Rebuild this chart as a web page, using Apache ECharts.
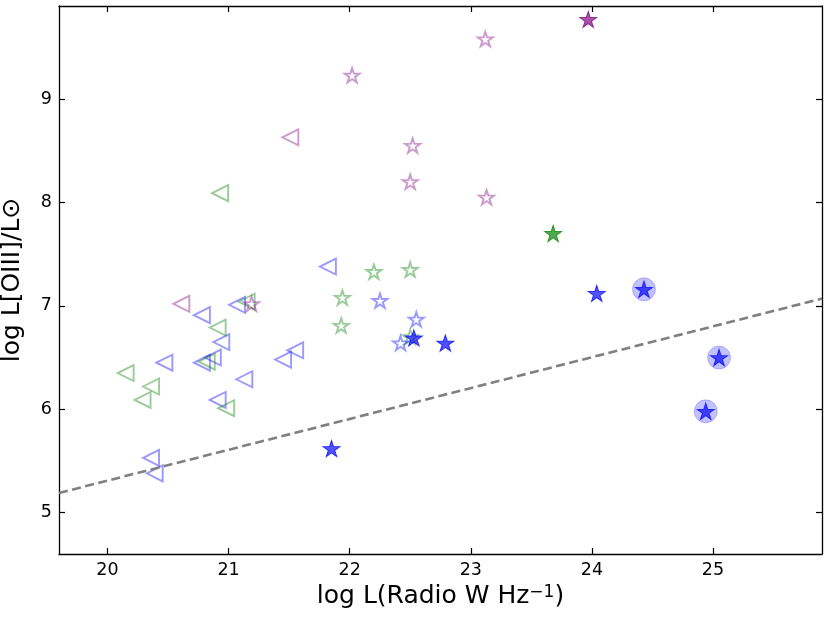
<!DOCTYPE html>
<html>
<head>
<meta charset="utf-8">
<script src="https://cdn.jsdelivr.net/npm/echarts@6/dist/echarts.min.js"></script>
<style>
  html, body { margin: 0; padding: 0; background: #fff; }
  #chart { width: 830px; height: 623px; }
</style>
</head>
<body>
<div id="chart"></div>
<script>
const xRange = [19.6, 25.9];
const yRange = [4.6, 9.9];
const xTicks = [20, 21, 22, 23, 24, 25];
const yTicks = [5, 6, 7, 8, 9];

// open triangles
const blueTriangles = [
  [20.47, 6.45], [20.78, 6.45], [20.87, 6.50], [20.94, 6.65], [20.78, 6.91],
  [21.07, 7.01], [21.13, 6.29], [20.91, 6.09], [21.45, 6.48], [21.55, 6.57],
  [21.82, 7.38], [20.36, 5.53], [20.39, 5.38]
];
const greenTriangles = [
  [20.15, 6.35], [20.36, 6.22], [20.29, 6.09], [20.98, 6.01],
  [20.82, 6.46], [20.91, 6.79], [21.15, 7.04], [20.93, 8.09]
];
const purpleTriangles = [[20.61, 7.02], [21.51, 8.63]];

// open stars
const purpleStars = [
  [21.19, 7.02], [22.02, 9.23], [23.12, 9.58], [22.52, 8.55], [22.50, 8.20], [23.13, 8.05]
];
const greenStars = [[22.20, 7.33], [22.50, 7.35], [21.94, 7.08], [21.93, 6.81], [22.50, 6.70]];
const blueStars = [[22.25, 7.05], [22.55, 6.87], [22.42, 6.64]];

// filled stars
const blueFilled = [
  [22.53, 6.69], [22.79, 6.64], [21.85, 5.62], [24.04, 7.12],
  [24.43, 7.16], [25.05, 6.50], [24.94, 5.98]
];
const greenFilled = [[23.68, 7.70]];
const purpleFilled = [[23.97, 9.77]];

// halo circles
const blueCircles = [[24.43, 7.16], [25.05, 6.50], [24.94, 5.98]];

// dashed relation
const lineX = [19.6, 25.9];
const lineY = [5.19, 7.07];

const FONT = "DejaVu Sans";
const TRI = "path://M0,10 L20,0 L20,20 Z";
const STAR = "path://M0,-100 L22.45,-30.9 L95.11,-30.9 L36.33,11.8 L58.78,80.9 L0,38.2 L-58.78,80.9 L-36.33,11.8 L-95.11,-30.9 L-22.45,-30.9 Z";

function openSeries(data, symbol, size, color) {
  return {
    type: "scatter", data, symbol, symbolSize: size,
    itemStyle: { color: "rgba(0,0,0,0)", borderColor: color, borderWidth: 1.9 },
    emphasis: { disabled: true }
  };
}

function filledSeries(data, symbol, size, fill, edge) {
  return {
    type: "scatter", data, symbol, symbolSize: size,
    itemStyle: { color: fill, borderColor: edge, borderWidth: 1 },
    emphasis: { disabled: true }
  };
}

function makeAxis(range, ticks, position, withLabels) {
  return {
    type: "value",
    min: range[0],
    max: range[1],
    position,
    axisLine: { show: true, onZero: false, lineStyle: { color: "#000", width: 1.3 } },
    axisTick: { show: true, inside: true, length: 6, customValues: ticks, lineStyle: { color: "#000", width: 1.2 } },
    axisLabel: { show: withLabels, customValues: ticks, fontSize: 17.5, color: "#000", fontFamily: FONT, margin: 7 },
    splitLine: { show: false }
  };
}

const chart = echarts.init(document.getElementById("chart"));

const xBottom = makeAxis(xRange, xTicks, "bottom", true);
xBottom.name = "{a|log L(Radio W Hz}{s|−1}{a|)}";
xBottom.nameLocation = "middle";
xBottom.nameGap = 30;
xBottom.nameTextStyle = {
  rich: {
    a: { fontSize: 25, fontFamily: FONT, color: "#000" },
    s: { fontSize: 17, fontFamily: FONT, color: "#000", verticalAlign: "top", padding: [0, 0, 4, 0] }
  }
};

const yLeft = makeAxis(yRange, yTicks, "left", true);
yLeft.name = "log L[OIII]/L⊙";
yLeft.nameLocation = "middle";
yLeft.nameGap = 34;
yLeft.nameTextStyle = { fontSize: 25, fontFamily: FONT, color: "#000" };

chart.setOption({
  animation: false,
  backgroundColor: "#fff",
  grid: { left: 59, right: 8, top: 6, bottom: 69, outerBoundsMode: "none" },
  xAxis: [xBottom, makeAxis(xRange, xTicks, "top", false)],
  yAxis: [yLeft, makeAxis(yRange, yTicks, "right", false)],
  series: [
    {
      type: "line",
      data: lineX.map((x, i) => [x, lineY[i]]),
      symbol: "none",
      lineStyle: { color: "#808080", width: 2.6, type: [9, 4.5] },
      emphasis: { disabled: true }
    },
    openSeries(blueTriangles, TRI, 16, "rgba(0,0,255,0.5)"),
    openSeries(greenTriangles, TRI, 16, "rgba(0,128,0,0.5)"),
    openSeries(purpleTriangles, TRI, 16, "rgba(128,0,128,0.5)"),
    openSeries(purpleStars, STAR, [15, 14.3], "rgba(128,0,128,0.5)"),
    openSeries(greenStars, STAR, [15, 14.3], "rgba(0,128,0,0.5)"),
    openSeries(blueStars, STAR, [15, 14.3], "rgba(0,0,255,0.5)"),
    filledSeries(blueCircles, "circle", 23, "rgba(0,0,255,0.3)", "rgba(0,0,255,0.25)"),
    filledSeries(blueFilled, STAR, [17, 16.2], "rgba(0,0,255,0.85)", "rgba(0,0,255,0.9)"),
    filledSeries(greenFilled, STAR, [17, 16.2], "rgba(0,128,0,0.85)", "rgba(0,128,0,0.9)"),
    filledSeries(purpleFilled, STAR, [17, 16.2], "rgba(128,0,128,0.85)", "rgba(128,0,128,0.9)")
  ]
});
</script>
</body>
</html>
